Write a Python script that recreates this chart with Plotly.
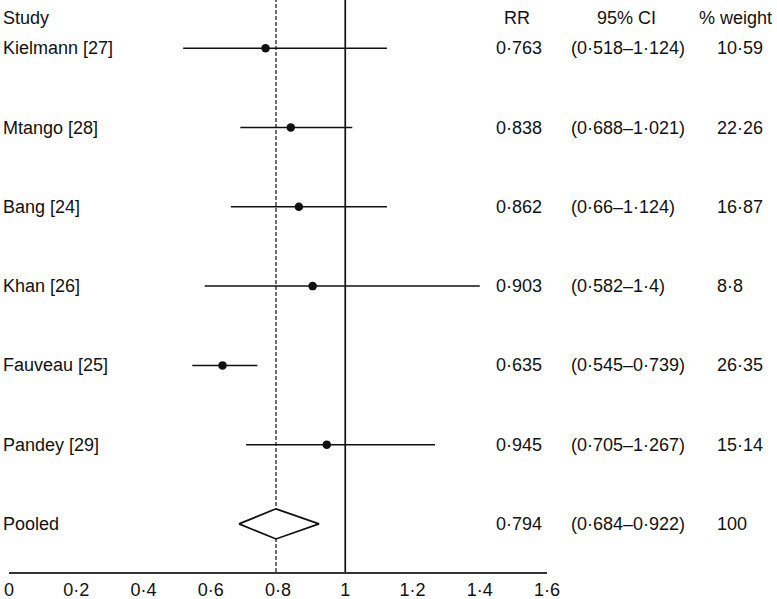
import plotly.graph_objects as go

# ---- data ----
studies = ["Kielmann [27]", "Mtango [28]", "Bang [24]", "Khan [26]",
           "Fauveau [25]", "Pandey [29]"]
rr = [0.763, 0.838, 0.862, 0.903, 0.635, 0.945]
ci_low = [0.518, 0.688, 0.66, 0.582, 0.545, 0.705]
ci_high = [1.124, 1.021, 1.124, 1.4, 0.739, 1.267]
weight = [10.59, 22.26, 16.87, 8.8, 26.35, 15.14]

pooled_label = "Pooled"
pooled_rr = 0.794
pooled_low = 0.684
pooled_high = 0.922
pooled_weight = 100

x_ticks = [0, 0.2, 0.4, 0.6, 0.8, 1.0, 1.2, 1.4, 1.6]
headers = ["Study", "RR", "95% CI", "% weight"]

# ---- helpers ----
def fmt(v):
    return format(v, "g").replace(".", "\u00b7")

FONT = "Liberation Sans, Arial, Helvetica, sans-serif"
FS = 18
INK = "#111111"

W, H = 777, 599

rows = list(range(1, len(studies) + 1))
pooled_row = len(studies) + 1

fig = go.Figure()

# CI lines
for y, lo, hi in zip(rows, ci_low, ci_high):
    fig.add_trace(go.Scatter(x=[lo, hi], y=[y, y], mode="lines",
                             line=dict(color=INK, width=1.5),
                             hoverinfo="skip", showlegend=False))

# point estimates
fig.add_trace(go.Scatter(x=rr, y=rows, mode="markers",
                         marker=dict(color=INK, size=8.5),
                         showlegend=False))

# pooled diamond
h = 0.19
fig.add_trace(go.Scatter(
    x=[pooled_low, pooled_rr, pooled_high, pooled_rr, pooled_low],
    y=[pooled_row, pooled_row - h, pooled_row, pooled_row + h, pooled_row],
    mode="lines", fill="toself", fillcolor="white",
    line=dict(color=INK, width=1.7), showlegend=False, hoverinfo="skip"))

# reference lines
fig.add_shape(type="line", x0=1, x1=1, y0=0, y1=1, xref="x", yref="paper",
              line=dict(color=INK, width=1.7), layer="below")
fig.add_shape(type="line", x0=pooled_rr, x1=pooled_rr, y0=0, y1=1,
              xref="x", yref="paper",
              line=dict(color=INK, width=1.2, dash="4px,2px"), layer="below")

# text columns
ann = []
def add_text(x, y, text, anchor):
    ann.append(dict(x=x, y=y, xref="paper", yref="y", text=text,
                    showarrow=False, xanchor=anchor, yanchor="middle",
                    font=dict(family=FONT, size=FS, color=INK)))

PLOT_L, PLOT_W = 9, 538   # pixels
def px(p):
    return (p - PLOT_L) / PLOT_W

header_y = 0.617
add_text(px(1), header_y, headers[0], "left")
add_text(px(517), header_y, headers[1], "center")
add_text(px(626), header_y, headers[2], "center")
add_text(px(735), header_y, headers[3], "center")

all_labels = studies + [pooled_label]
all_rr = rr + [pooled_rr]
all_lo = ci_low + [pooled_low]
all_hi = ci_high + [pooled_high]
all_w = weight + [pooled_weight]
for y, lab, r, lo, hi, w in zip(rows + [pooled_row], all_labels, all_rr,
                                all_lo, all_hi, all_w):
    add_text(px(1), y, lab, "left")
    add_text(px(494), y, fmt(r), "left")
    add_text(px(569), y, "(" + fmt(lo) + "\u2013" + fmt(hi) + ")", "left")
    add_text(px(715), y, fmt(w), "left")

fig.update_layout(
    width=W, height=H,
    margin=dict(l=PLOT_L, r=W - PLOT_L - PLOT_W, t=0, b=27, pad=0),
    paper_bgcolor="white", plot_bgcolor="white",
    font=dict(family=FONT, size=FS, color=INK),
    annotations=ann,
    xaxis=dict(range=[0, 1.6], tickvals=x_ticks,
               ticktext=[fmt(v) for v in x_ticks],
               showgrid=False, zeroline=False, showline=True,
               linecolor="#333333", linewidth=2, ticks="",
               tickfont=dict(family=FONT, size=FS, color=INK)),
    yaxis=dict(range=[7.607, 0.39], showgrid=False, zeroline=False,
               showticklabels=False, showline=False),
)

fig.write_html("out.html",
               config={"displayModeBar": False},
               post_script="document.body.style.margin='0';"
                           "document.body.style.padding='0';")
